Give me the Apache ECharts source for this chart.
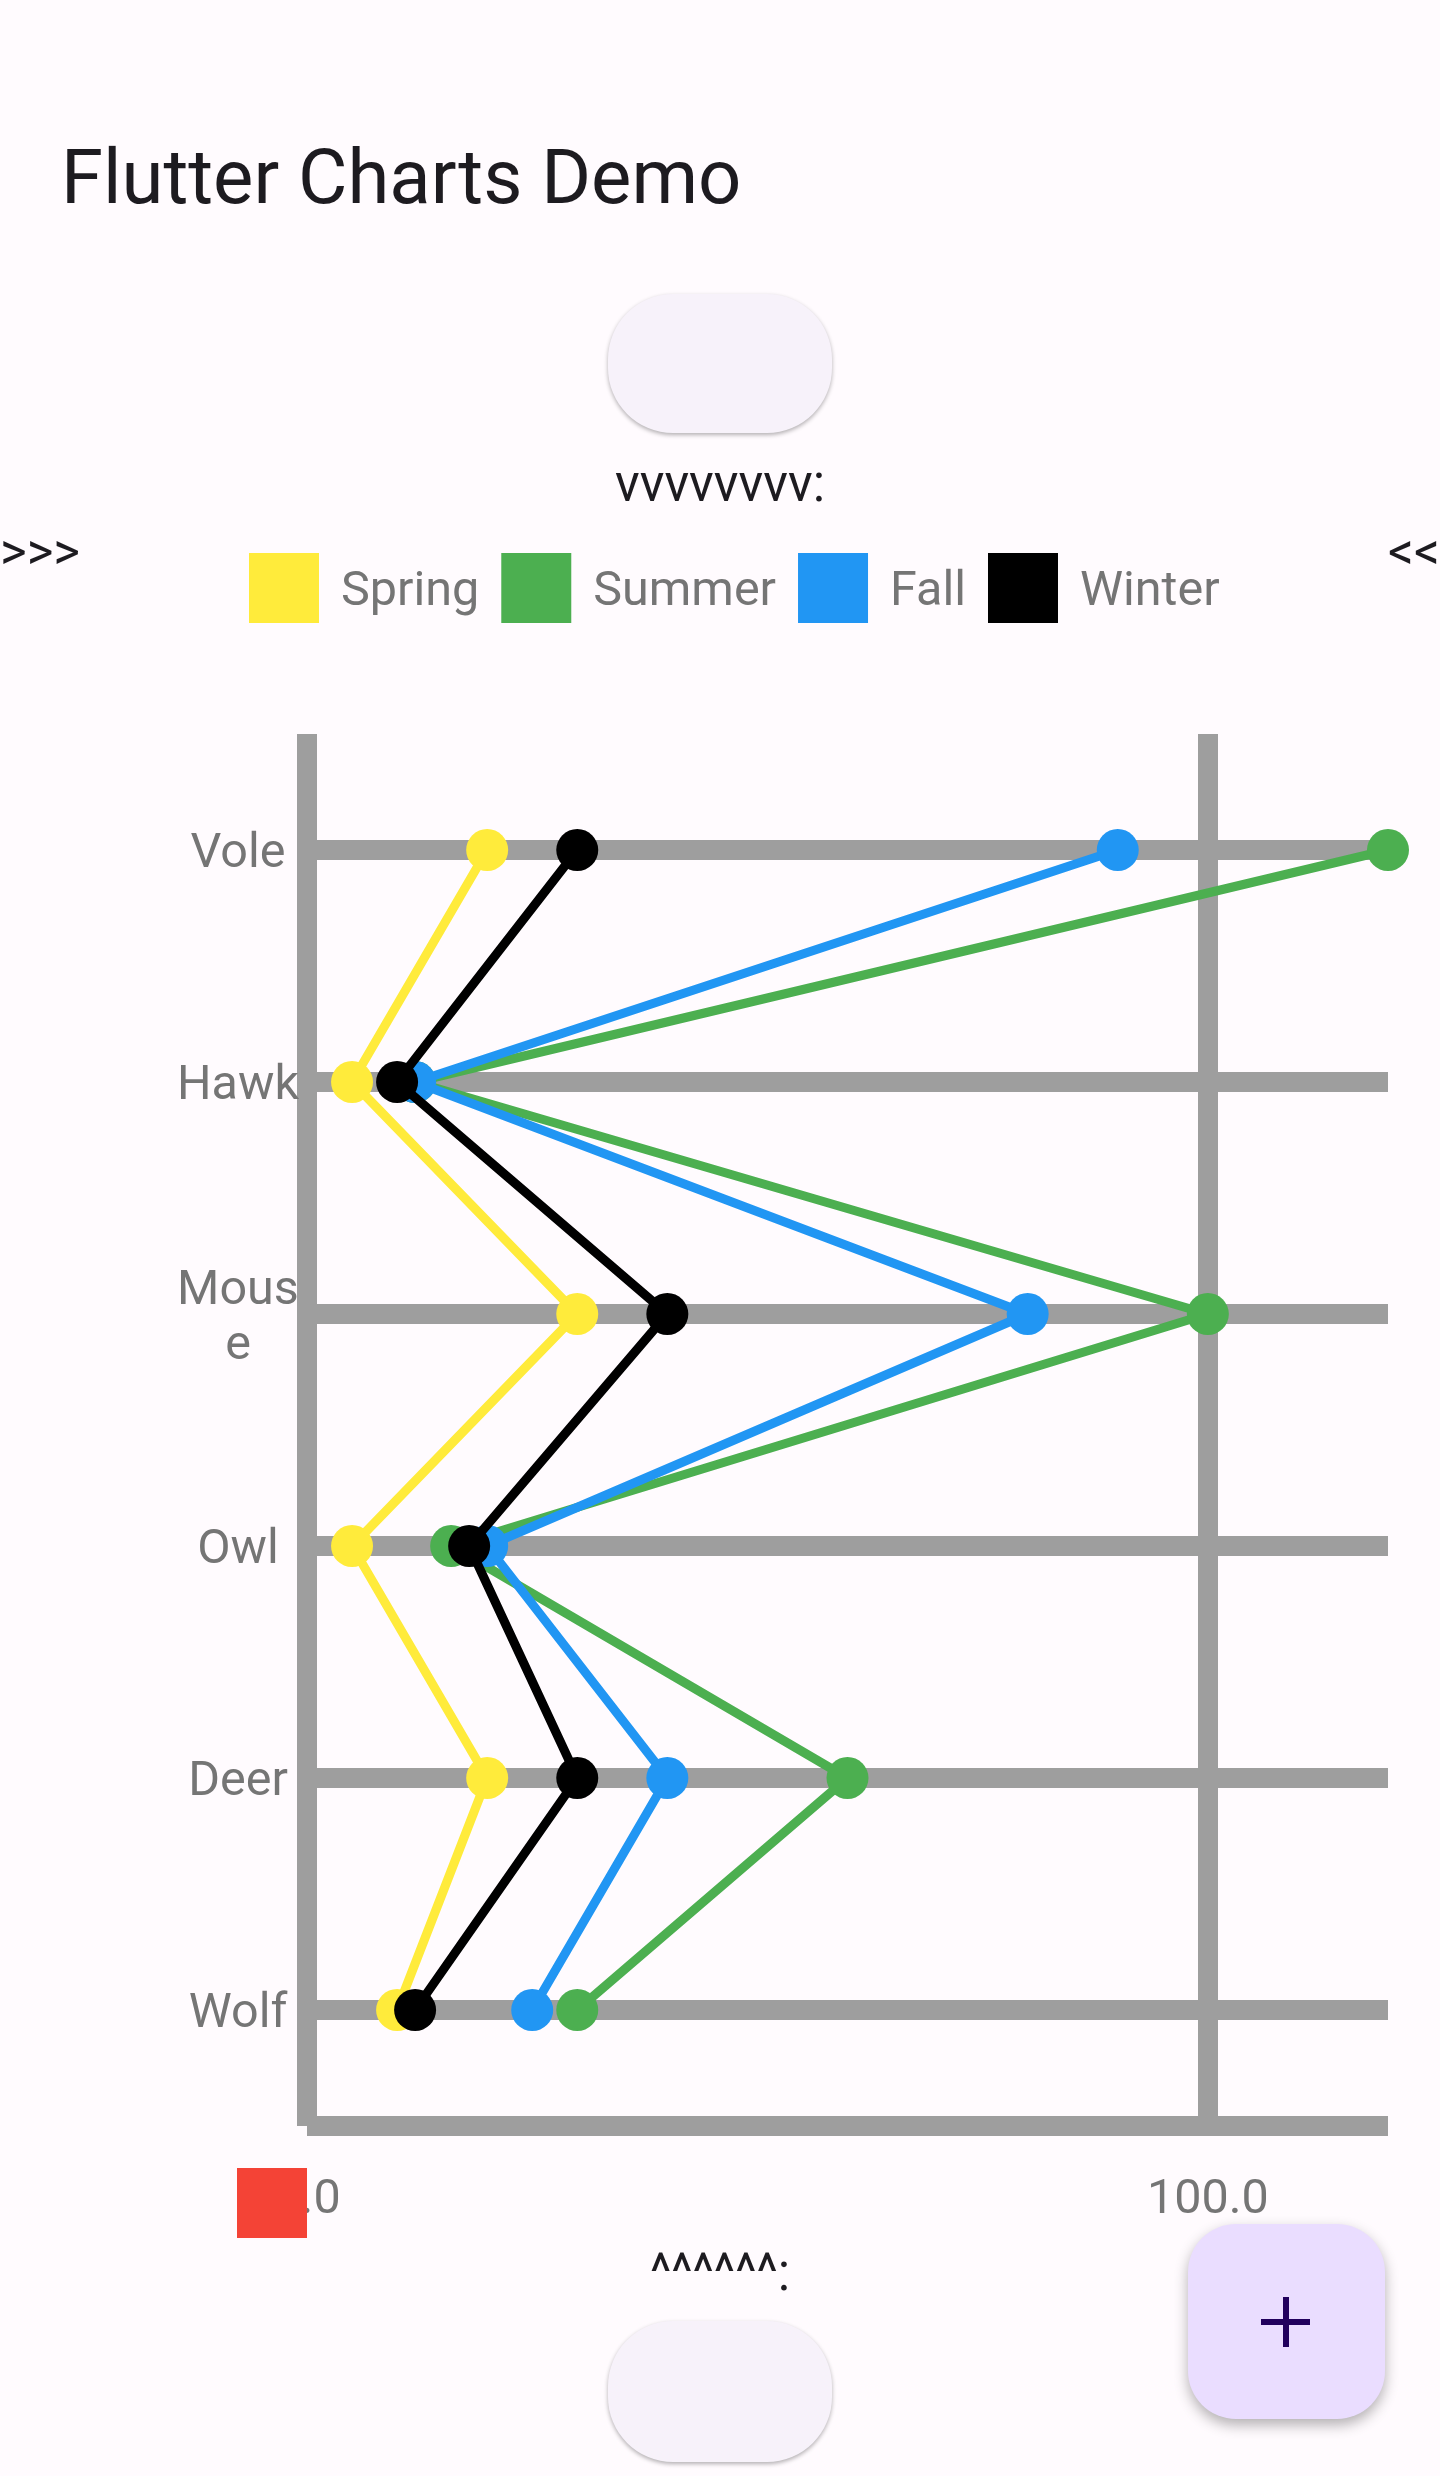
<!DOCTYPE html>
<html>
<head>
<meta charset="utf-8">
<script src="https://cdn.jsdelivr.net/npm/echarts@6/dist/echarts.min.js"></script>
<style>
html,body{margin:0;padding:0;background:#fffbfe;}
#chart{width:1440px;height:2476px;}
</style>
</head>
<body>
<div id="chart"></div>
<script>
// ---- data ----
const categories = ['Vole', 'Hawk', 'Mouse', 'Owl', 'Deer', 'Wolf'];
const seriesNames = ['Spring', 'Summer', 'Fall', 'Winter'];
const springValues = [20, 5, 30, 5, 20, 10];
const summerValues = [120, 12, 100, 16, 60, 30];
const fallValues = [90, 12, 80, 20, 40, 25];
const winterValues = [30, 10, 40, 18, 30, 12];
const xTickValues = [0, 100];
const xMax = 120;

const seriesValues = [springValues, summerValues, fallValues, winterValues];
const seriesColors = ['#ffeb3b', '#4caf50', '#2196f3', '#000000'];
const GRID = '#9e9e9e';
const LABEL = '#757575';
const FONT = 'Roboto';
const LABEL_SIZE = 48.5;

const chart = echarts.init(document.getElementById('chart'), null, {renderer: 'canvas'});

const gridLines = categories.map(c => ({yAxis: c}))
  .concat(xTickValues.filter(v => v > 0).map(v => ({xAxis: v})));

const series = seriesNames.map((name, i) => ({
  name: name,
  type: 'line',
  data: seriesValues[i].map((v, j) => [v, categories[j]]),
  symbol: 'circle',
  symbolSize: 42,
  showSymbol: true,
  clip: false,
  z: 3 + i,
  lineStyle: {width: 9, color: seriesColors[i]},
  itemStyle: {color: seriesColors[i], borderWidth: 0},
  emphasis: {disabled: true},
  animation: false
}));

series[0].markLine = {
  silent: true,
  z: 1,
  symbol: ['none', 'none'],
  label: {show: false},
  lineStyle: {color: GRID, width: 20, type: 'solid', cap: 'butt'},
  data: gridLines,
  animation: false
};

const option = {
  backgroundColor: '#fffbfe',
  animation: false,
  textStyle: {fontFamily: FONT},
  grid: {left: 307, right: 52, top: 734, bottom: 350, containLabel: false},
  legend: {
    data: seriesNames,
    top: 548,
    left: 244,
    icon: 'rect',
    itemWidth: 70,
    itemHeight: 70,
    itemGap: 22,
    selectedMode: false,
    itemStyle: {borderWidth: 0},
    formatter: name => '{t|' + name + '}',
    textStyle: {
      fontSize: LABEL_SIZE, color: LABEL, fontFamily: FONT, padding: [0, 0, 0, 17],
      rich: {t: {fontSize: LABEL_SIZE, color: LABEL, fontFamily: FONT, padding: [10, 0, 0, 0]}}
    }
  },
  xAxis: {
    type: 'value',
    min: 0,
    max: xMax,
    interval: 100,
    splitLine: {show: false},
    axisTick: {show: false},
    axisLine: {show: true, lineStyle: {color: GRID, width: 20, cap: 'butt'}},
    axisLabel: {
      showMaxLabel: false,
      formatter: v => (xTickValues.indexOf(v) >= 0 ? v.toFixed(1) : ''),
      fontSize: LABEL_SIZE,
      color: LABEL,
      fontFamily: FONT,
      margin: 50
    }
  },
  yAxis: {
    type: 'category',
    data: categories,
    inverse: true,
    boundaryGap: true,
    axisTick: {show: false},
    splitLine: {show: false},
    axisLine: {show: true, lineStyle: {color: GRID, width: 20, cap: 'butt'}},
    axisLabel: {
      fontSize: LABEL_SIZE,
      color: LABEL,
      fontFamily: FONT,
      margin: 69,
      align: 'center',
      width: 128,
      overflow: 'breakAll',
      formatter: v => '{t|' + v + '}',
      rich: {t: {fontSize: LABEL_SIZE, color: LABEL, fontFamily: FONT, lineHeight: 55, padding: [10, 0, 0, 0], align: 'center'}}
    }
  },
  series: series,
  graphic: [
    {type: 'text', x: 61, y: 184, z: 100, style: {text: 'Flutter Charts Demo', fontSize: 76, fontFamily: FONT, fill: '#1d1b20', verticalAlign: 'middle', align: 'left'}},
    {type: 'rect', x: 608, y: 294, z: 100, shape: {width: 224, height: 139, r: 65}, style: {fill: '#f7f2fa', shadowBlur: 4, shadowOffsetY: 2, shadowColor: 'rgba(0,0,0,0.3)'}},
    {type: 'text', x: 720, y: 488, z: 100, style: {text: 'vvvvvvvv:', fontSize: 51, fontFamily: FONT, fill: '#1d1b20', verticalAlign: 'middle', align: 'center'}},
    {type: 'text', x: 0, y: 556, z: 100, style: {text: '>>>', fontSize: 51, fontFamily: FONT, fill: '#1d1b20', verticalAlign: 'middle', align: 'left'}},
    {type: 'text', x: 1388, y: 556, z: 100, style: {text: '<<<', fontSize: 51, fontFamily: FONT, fill: '#1d1b20', verticalAlign: 'middle', align: 'left'}},
    {type: 'rect', x: 237, y: 2168, z: 100, shape: {width: 70, height: 70}, style: {fill: '#f44336'}},
    {type: 'text', x: 720, y: 2277, z: 100, style: {text: '^^^^^^:', fontSize: 51, fontFamily: FONT, fill: '#1d1b20', verticalAlign: 'middle', align: 'center'}},
    {type: 'rect', x: 608, y: 2321, z: 100, shape: {width: 224, height: 141, r: 65}, style: {fill: '#f7f2fa', shadowBlur: 4, shadowOffsetY: 2, shadowColor: 'rgba(0,0,0,0.3)'}},
    {type: 'rect', x: 1188, y: 2224, z: 100, shape: {width: 197, height: 195, r: 48}, style: {fill: '#eaddff', shadowBlur: 14, shadowOffsetY: 6, shadowColor: 'rgba(0,0,0,0.3)'}},
    {type: 'rect', x: 1261, y: 2319, z: 101, shape: {width: 49, height: 6}, style: {fill: '#21005d'}},
    {type: 'rect', x: 1283, y: 2297, z: 101, shape: {width: 6, height: 50}, style: {fill: '#21005d'}}
  ]
};

chart.setOption(option);
</script>
</body>
</html>
